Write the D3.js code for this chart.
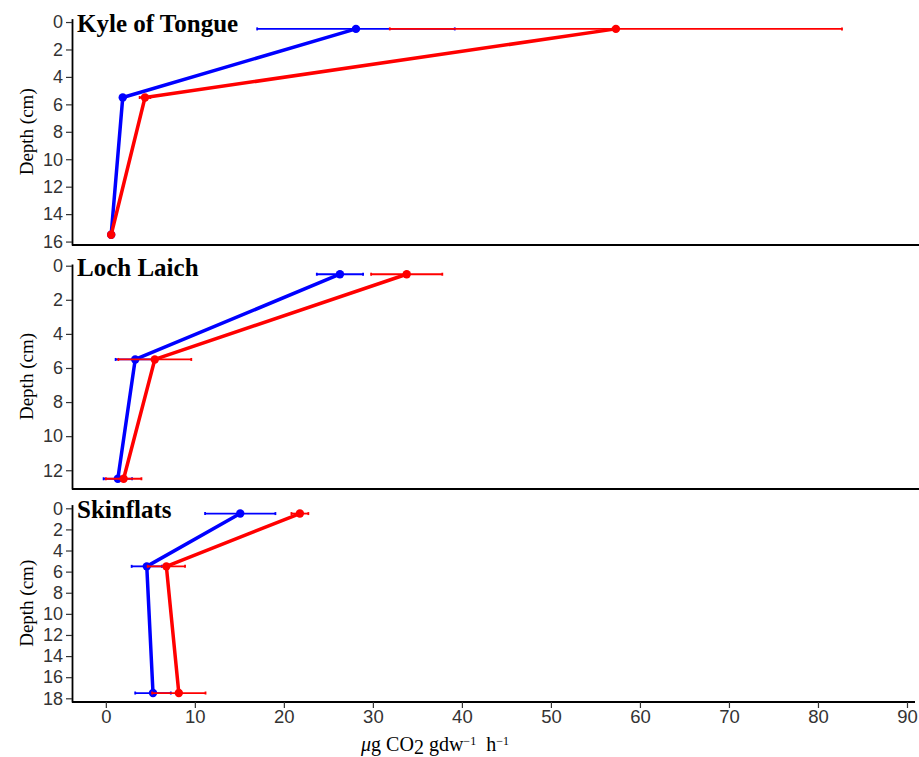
<!DOCTYPE html>
<html>
<head>
<meta charset="utf-8">
<script src="https://cdn.jsdelivr.net/npm/d3@7"></script>
<style>
  body { margin: 0; background: #fff; }
  svg { display: block; }
  .tick text { font-family: "Liberation Sans", Arial, sans-serif; font-size: 18px; fill: #333; }
  .tick line { stroke: #333; stroke-width: 1.2; }
</style>
</head>
<body>
<svg width="919" height="757"></svg>
<script>
// sites (panels) and sampling depths (cm)
const sites = ["Kyle of Tongue", "Loch Laich", "Skinflats"];
const depths = [[0.5, 5.5, 15.5], [0.5, 5.5, 12.5], [0.5, 5.5, 17.5]];
const yTickMax = [16, 12, 18];

// blue series: mean and half-width of error bar
const blueMean = [[28.1, 1.9, 0.6], [26.3, 3.3, 1.35], [15.1, 4.6, 5.3]];
const blueErr  = [[11.1, 0.3, 0.2], [2.6, 2.2, 1.6], [3.95, 1.7, 2.0]];
// red series
const redMean = [[57.3, 4.4, 0.6], [33.8, 5.5, 2.0], [21.8, 6.8, 8.2]];
const redErr  = [[25.4, 0.6, 0.2], [4.0, 4.1, 2.0], [0.95, 2.1, 3.0]];

const xTicks = [0, 10, 20, 30, 40, 50, 60, 70, 80, 90];

const svg = d3.select("svg");
const left = 72, right = 915;
const panels = [
  {top: 18.6, bottom: 245},
  {top: 264, bottom: 489},
  {top: 504.6, bottom: 702}
];

var x = d3.scaleLinear().domain([-3.8, 90.9]).range([left, right]);

sites.forEach((site, i) => {
  const p = panels[i];
  const d = depths[i];
  const span = d3.max(d) - d3.min(d);
  const y = d3.scaleLinear()
    .domain([d3.min(d) - span * 0.05, d3.max(d) + span * 0.05])
    .range([p.top, p.bottom]);

  const g = svg.append('g').attr('class', 'panel');

  // y axis
  const ya = g.append('g')
    .attr('transform', `translate(${left},0)`)
    .call(d3.axisLeft(y).tickValues(d3.range(0, yTickMax[i] + 1, 2)).tickSize(6).tickPadding(3).tickSizeOuter(0));
  ya.select('.domain').attr('stroke', '#000').attr('stroke-width', 1.8);

  // bottom line
  g.append('line')
    .attr('x1', left).attr('x2', i < 2 ? 919 : right)
    .attr('y1', p.bottom).attr('y2', p.bottom)
    .attr('stroke', '#000').attr('stroke-width', 1.8);

  if (i === 2) {
    const xa = g.append('g')
      .attr('transform', `translate(0,${p.bottom})`)
      .call(d3.axisBottom(x).tickValues(xTicks).tickSize(6).tickPadding(2).tickSizeOuter(0));
    xa.select('.domain').remove();
    xa.selectAll('.tick text').style('font-size', '18.5px');
  }

  // y title
  g.append('text')
    .attr('transform', `translate(33,${(p.top + p.bottom) / 2}) rotate(-90)`)
    .attr('text-anchor', 'middle')
    .style('font-family', '"Liberation Serif", "Times New Roman", serif')
    .style('font-size', '19px')
    .text('Depth (cm)');

  // panel title
  g.append('text')
    .attr('x', 77).attr('y', y(0) + 10)
    .style('font-family', '"Liberation Serif", "Times New Roman", serif')
    .style('font-weight', 'bold')
    .style('font-size', '25px')
    .text(site);

  const series = [
    {color: 'blue', mean: blueMean[i], err: blueErr[i]},
    {color: 'red', mean: redMean[i], err: redErr[i]}
  ];

  series.forEach(s => {
    const rows = d.map((dep, k) => ({depth: dep, mean: s.mean[k], err: s.err[k]}));

    const eb = g.append('g').selectAll('g').data(rows).enter().append('g');
    eb.append('line')
      .attr('x1', r => x(r.mean - r.err)).attr('x2', r => x(r.mean + r.err))
      .attr('y1', r => y(r.depth)).attr('y2', r => y(r.depth))
      .attr('stroke', s.color).attr('stroke-width', 1.8);
    eb.selectAll('.cap').data(r => [r.mean - r.err, r.mean + r.err].map(v => ({v, depth: r.depth})))
      .enter().append('line')
      .attr('x1', c => x(c.v)).attr('x2', c => x(c.v))
      .attr('y1', c => y(c.depth) - 1.5).attr('y2', c => y(c.depth) + 1.5)
      .attr('stroke', s.color).attr('stroke-width', 1.8);

    g.append('path')
      .datum(rows)
      .attr('fill', 'none')
      .attr('stroke', s.color)
      .attr('stroke-width', 3.5)
      .attr('stroke-linejoin', 'round')
      .attr('d', d3.line().x(r => x(r.mean)).y(r => y(r.depth)));

    g.append('g').selectAll('circle').data(rows).enter().append('circle')
      .attr('cx', r => x(r.mean)).attr('cy', r => y(r.depth))
      .attr('r', 4.2).attr('fill', s.color);
  });
});

// x title
const xt = svg.append('text')
  .attr('x', 435).attr('y', 751)
  .attr('text-anchor', 'middle')
  .style('font-family', '"Liberation Serif", "Times New Roman", serif')
  .style('font-size', '20px');
xt.append('tspan').style('font-style', 'italic').text('μ');
xt.append('tspan').text('g CO');
xt.append('tspan').attr('dy', 3).text('2');
xt.append('tspan').attr('dy', -3).text(' gdw');
xt.append('tspan').attr('dy', -6).style('font-size', '12px').text('−1');
xt.append('tspan').attr('dy', 6).text('\u2002h');
xt.append('tspan').attr('dy', -6).style('font-size', '12px').text('−1');
</script>
</body>
</html>
